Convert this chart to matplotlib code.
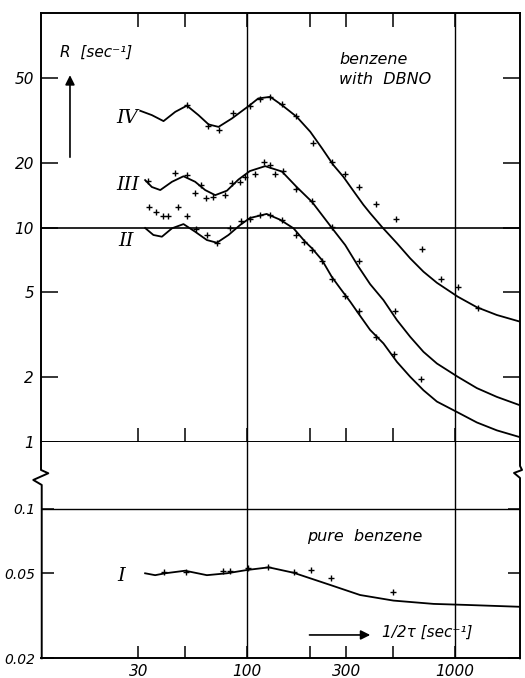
import matplotlib
matplotlib.use("Agg")
import matplotlib.pyplot as plt
from matplotlib.ticker import FixedLocator, FixedFormatter, NullLocator

# ---------------------------------------------------------------------------#
# Data (x = 1/2tau [sec^-1], y = R [sec^-1])

# fitted curves, upper panel
curve4_x = [30.6, 34.8, 39.6, 45.1, 51.3, 58.3, 65.2, 72.8, 84.4, 103, 113, 129, 147, 173, 201,
            229, 260, 290, 330, 362, 390, 444, 525, 608, 704, 817, 1030, 1272, 1586, 2050]
curve4_y = [35.2, 33.6, 31.5, 34.8, 37.2, 33.6, 30.4, 29.6, 32.4, 37.4, 40.2, 40.9, 37.4, 33.0,
            28.1, 23.5, 19.6, 17.3, 14.5, 12.8, 11.7, 10.1, 8.46, 7.19, 6.23, 5.53, 4.76, 4.25,
            3.91, 3.64]

curve3_x = [32.3, 34.8, 38.2, 43.5, 49.4, 56.2, 62.8, 70.2, 79.9, 90.8, 103, 122, 147, 173,
            205, 255, 296, 343, 390, 452, 525, 608, 704, 817, 1030, 1272, 1586, 2050]
curve3_y = [16.7, 15.5, 15.0, 16.4, 17.4, 16.4, 15.0, 14.2, 14.9, 16.8, 18.4, 19.4, 18.3, 15.5,
            13.2, 10.0, 8.30, 6.57, 5.45, 4.59, 3.70, 3.09, 2.63, 2.32, 2.01, 1.78, 1.62, 1.48]

curve2_x = [32.3, 35.4, 38.9, 43.5, 49.4, 56.2, 64.0, 71.5, 81.3, 92.5, 103, 124, 144, 167,
            190, 205, 229, 255, 280, 313, 343, 390, 452, 525, 608, 704, 817, 1030, 1272, 1586,
            2050]
curve2_y = [9.97, 9.25, 9.08, 9.94, 10.4, 9.58, 8.76, 8.51, 9.25, 10.3, 11.1, 11.6, 10.9, 9.94,
            8.60, 8.01, 7.06, 5.90, 5.21, 4.51, 3.97, 3.33, 2.88, 2.36, 2.01, 1.74, 1.54, 1.37,
            1.23, 1.13, 1.05]

# measured points, upper panel
meas4_x = [51.3, 64.9, 72.8, 85.5, 102.6, 114.6, 129, 146.8, 172.6, 206.5, 257, 295, 345,
           416, 519, 696, 857, 1030, 1294]
meas4_y = [37.4, 29.9, 28.6, 34.4, 37.0, 39.8, 40.7, 38.0, 33.3, 25.0, 20.3, 17.9, 15.5,
           12.9, 11.0, 7.93, 5.78, 5.27, 4.23]

meas3_x = [33.2, 45.1, 51.2, 56.2, 60.1, 63.7, 68.3, 78.4, 84.4, 92.5, 97.1, 109.3, 119.8,
           129, 135.8, 148.2, 172, 206, 256, 346, 516]
meas3_y = [16.6, 18.1, 17.7, 14.5, 15.8, 13.8, 13.9, 14.2, 16.2, 16.4, 17.3, 17.8, 20.3,
           19.7, 17.9, 18.4, 15.2, 13.3, 10.1, 6.99, 4.09]

meas2_x = [33.9, 36.5, 39.2, 41.6, 46.4, 51.3, 56.9, 64.0, 71.9, 82.9, 93.6, 103.4, 114.6,
           129, 146.8, 172.4, 188, 206, 230, 257, 296, 345, 416, 509, 683]
meas2_y = [12.5, 11.8, 11.3, 11.3, 12.5, 11.3, 9.83, 9.29, 8.51, 10.0, 10.8, 11.0, 11.5,
           11.5, 10.9, 9.27, 8.60, 7.83, 6.99, 5.76, 4.81, 4.08, 3.09, 2.57, 1.97]

# pure benzene, lower panel
curve1_x = [32.3, 36.1, 40.3, 50.3, 64.0, 79.9, 99.7, 127, 167, 251, 349, 505, 787, 1137, 2050]
curve1_y = [0.0499, 0.0489, 0.0499, 0.0513, 0.0489, 0.0499, 0.0517, 0.0532, 0.0502, 0.0440,
            0.0395, 0.0372, 0.0359, 0.0355, 0.0348]

meas1_x = [40.0, 50.7, 76.9, 82.9, 101.4, 126.6, 167, 202, 252.6, 505]
meas1_y = [0.0505, 0.0505, 0.0512, 0.0513, 0.0527, 0.0536, 0.0505, 0.0517, 0.0473, 0.0407]

# axis ticks
x_ticks = [30, 50, 100, 200, 300, 500, 1000]
x_labels = ["30", "", "100", "", "300", "", "1000"]
top_y_ticks = [1, 2, 5, 10, 20, 50]
top_y_labels = ["1", "2", "5", "10", "20", "50"]
bot_y_ticks = [0.02, 0.05, 0.1]
bot_y_labels = ["0.02", "0.05", "0.1"]

# ---------------------------------------------------------------------------#
plt.rcParams["font.family"] = "DejaVu Sans"
plt.rcParams["font.style"] = "italic"

fig = plt.figure(figsize=(5.25, 6.78), dpi=100)
ax_top = fig.add_axes([0.0781, 0.3485, 0.9124, 0.6319])
ax_bot = fig.add_axes([0.0781, 0.0291, 0.9124, 0.3195])

for ax in (ax_top, ax_bot):
    ax.set_xscale("log")
    ax.set_yscale("log")
    ax.set_xlim(10.2, 2050)
    ax.xaxis.set_major_locator(FixedLocator(x_ticks))
    ax.xaxis.set_major_formatter(FixedFormatter(x_labels))
    ax.xaxis.set_minor_locator(NullLocator())
    ax.yaxis.set_minor_locator(NullLocator())
    ax.axvline(100, color="black", lw=1.0)
    ax.axvline(1000, color="black", lw=1.0)
    for s in ax.spines.values():
        s.set_linewidth(1.4)

# Upper panel: benzene with DBNO
ax_top.set_ylim(1, 100.5)
ax_top.yaxis.set_major_locator(FixedLocator(top_y_ticks))
ax_top.yaxis.set_major_formatter(FixedFormatter(top_y_labels))
ax_top.axhline(10, color="black", lw=1.2)
ax_top.tick_params(axis="x", direction="in", top=True, bottom=True, length=10, width=1.1,
                   labelbottom=False)
ax_top.tick_params(axis="y", direction="in", left=True, right=True, length=12, width=1.1,
                   labelsize=11, pad=5)

for cx, cy in [(curve4_x, curve4_y), (curve3_x, curve3_y), (curve2_x, curve2_y)]:
    ax_top.plot(cx, cy, color="black", lw=1.3)
for mx, my in [(meas4_x, meas4_y), (meas3_x, meas3_y), (meas2_x, meas2_y)]:
    ax_top.plot(mx, my, "+", color="black", ms=5, mew=1.0)

ax_top.text(0.0397, 0.9097, "R  [sec⁻¹]", transform=ax_top.transAxes, fontsize=11,
            ha="left", va="center")
ax_top.annotate("", xy=(0.0605, 0.862), xytext=(0.0605, 0.6576), xycoords="axes fraction",
                arrowprops=dict(arrowstyle="-|>", color="black", lw=1.2, mutation_scale=14))
ax_top.text(0.622, 0.891, "benzene", transform=ax_top.transAxes, fontsize=11.5,
            ha="left", va="center")
ax_top.text(0.622, 0.8466, "with  DBNO", transform=ax_top.transAxes, fontsize=11.5,
            ha="left", va="center")

roman = dict(family="DejaVu Serif", fontsize=14, ha="center", va="center")
ax_top.text(0.1795, 0.7556, "IV", transform=ax_top.transAxes, **roman)
ax_top.text(0.1816, 0.5992, "III", transform=ax_top.transAxes, **roman)
ax_top.text(0.1775, 0.4685, "II", transform=ax_top.transAxes, **roman)

# Lower panel: pure benzene
ax_bot.set_ylim(0.02, 0.2057)
ax_bot.yaxis.set_major_locator(FixedLocator(bot_y_ticks))
ax_bot.yaxis.set_major_formatter(FixedFormatter(bot_y_labels))
ax_bot.axhline(0.1, color="black", lw=1.0)
ax_bot.tick_params(axis="x", direction="in", top=False, bottom=True, length=9, width=1.1,
                   labelsize=11, pad=4)
ax_bot.tick_params(axis="y", direction="in", left=True, right=True, length=9, width=1.1,
                   labelsize=10, pad=4)
ax_bot.spines["top"].set_visible(False)
ax_bot.spines["left"].set_visible(False)
ax_bot.spines["right"].set_visible(False)

ax_bot.plot(curve1_x, curve1_y, color="black", lw=1.3)
ax_bot.plot(meas1_x, meas1_y, "+", color="black", ms=5, mew=1.0)

# broken axis marks on both sides
ax_bot.plot([0, 0, 0.0152, -0.0161, 0.0015, 0.0015], [1, 0.8693, 0.8541, 0.8232, 0.8001, 0],
            transform=ax_bot.transAxes, color="black", lw=1.4, clip_on=False)
ax_bot.plot([1, 1, 1.0042, 0.9875, 1, 1], [1, 0.8878, 0.8693, 0.8555, 0.8324, 0],
            transform=ax_bot.transAxes, color="black", lw=1.4, clip_on=False)

ax_bot.text(0.167, 0.380, "I", transform=ax_bot.transAxes, **roman)
ax_bot.text(0.5553, 0.560, "pure  benzene", transform=ax_bot.transAxes, fontsize=11.5,
            ha="left", va="center")
ax_bot.annotate("", xy=(0.6931, 0.1076), xytext=(0.5547, 0.1076), xycoords="axes fraction",
                arrowprops=dict(arrowstyle="-|>", color="black", lw=1.2, mutation_scale=14))
ax_bot.text(0.711, 0.1178, "1/2τ [sec⁻¹]", transform=ax_bot.transAxes, fontsize=11,
            ha="left", va="center")

plt.savefig("out.png", dpi=100)
